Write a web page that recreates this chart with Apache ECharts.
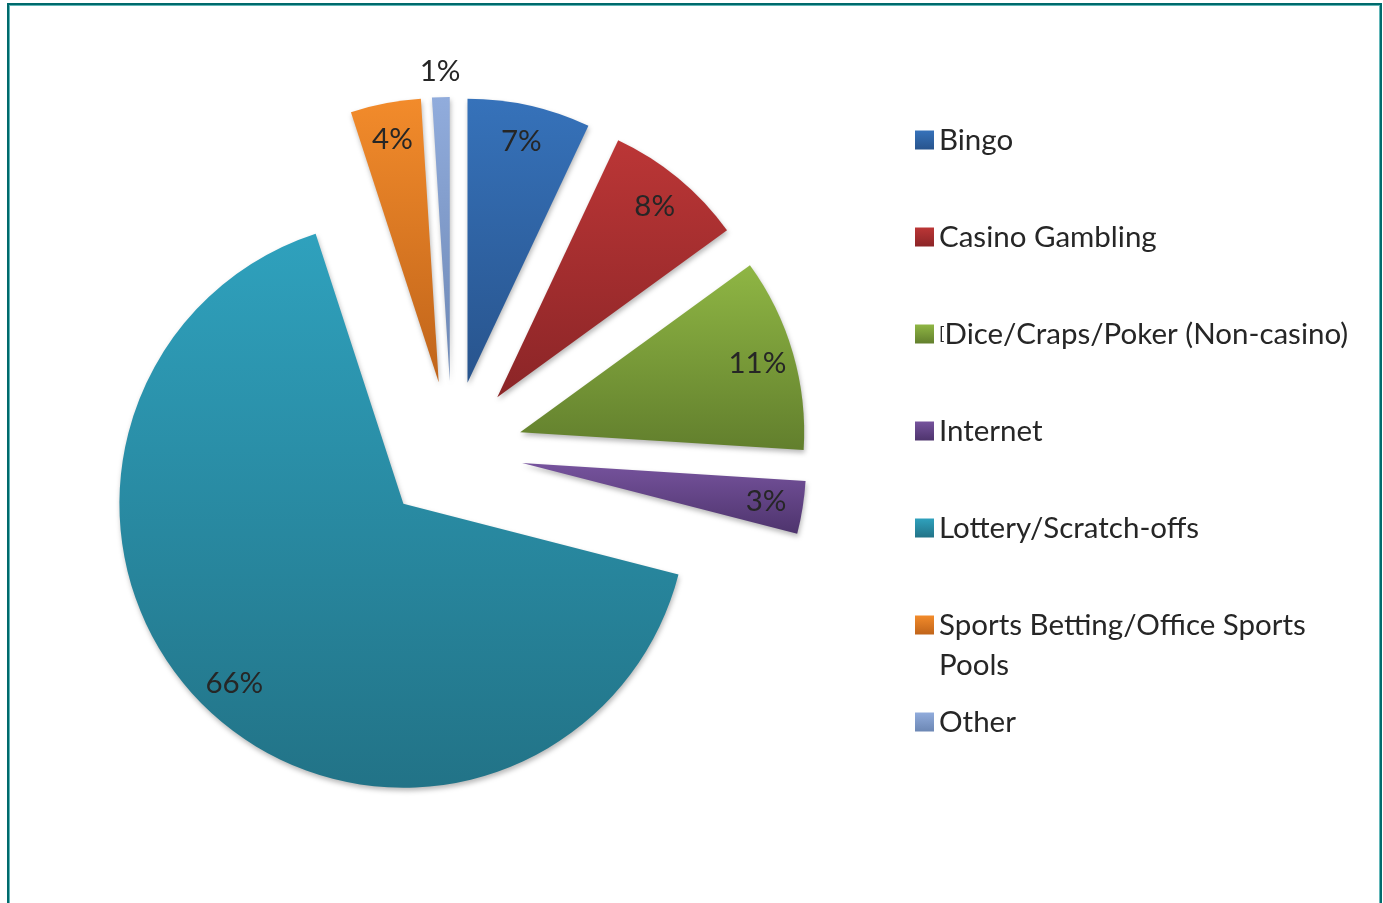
<!DOCTYPE html>
<html>
<head>
<meta charset="utf-8">
<title>Gambling activities</title>
<script src="https://cdn.jsdelivr.net/npm/echarts@6/dist/echarts.min.js"></script>
<style>
  html, body { margin: 0; padding: 0; background: #ffffff; overflow: hidden; }
  #chart { position: absolute; left: 0; top: 0; width: 1383px; height: 903px; }
  /* teal double-line frame round the chart area */
  #frame {
    position: absolute; left: 7px; top: 3px; width: 1375px; height: 1000px;
    box-sizing: border-box; border: 2px solid #006a6c; border-bottom: none;
    box-shadow: inset 1px 1px 0 #62b6b8, inset -1px 0 0 #62b6b8;
    pointer-events: none; z-index: 2;
  }
</style>
</head>
<body>
<div id="chart"></div>
<div id="frame"></div>
<script>
// Share of respondents by gambling activity (percent)
const categories = [
  'Bingo',
  'Casino Gambling',
  'Dice/Craps/Poker (Non-casino)',
  'Internet',
  'Lottery/Scratch-offs',
  'Sports Betting/Office Sports Pools',
  'Other'
];
const shares = [7, 8, 11, 3, 66, 4, 1];

// slice fills: light at the top, darker at the bottom
const topColors    = ['#3672ba', '#bb3636', '#8fb644', '#76539d', '#2fa1bd', '#f28b2b', '#91acdc'];
const bottomColors = ['#28548d', '#8b2527', '#627f2d', '#4e346d', '#227387', '#c0641a', '#6c87b4'];

const FONT = 'Lato';
const TEXT = '#262626';
const FONT_SIZE = 29.5;

function fill(i) {
  return new echarts.graphic.LinearGradient(0, 0, 0, 1, [
    { offset: 0, color: topColors[i] },
    { offset: 1, color: bottomColors[i] }
  ]);
}

const CENTER = [452, 452];
const EXPLODE = 71;

const sliceData = categories.map((name, i) => ({
  name, value: shares[i], selected: true,
  itemStyle: { color: fill(i) }
}));

// transparent rings that carry the percentage labels
function labelRing(radius, showFor) {
  return {
    type: 'pie',
    center: CENTER,
    radius: radius,
    startAngle: 90,
    clockwise: true,
    silent: true,
    legendHoverLink: false,
    selectedMode: 'multiple',
    selectedOffset: EXPLODE,
    percentPrecision: 0,
    emphasis: { disabled: true },
    itemStyle: { color: 'rgba(0,0,0,0)', borderWidth: 0 },
    select: { itemStyle: { color: 'rgba(0,0,0,0)', borderWidth: 0 } },
    labelLine: { show: false },
    label: {
      show: true, position: 'inside', formatter: '{d}%',
      fontFamily: FONT, fontSize: FONT_SIZE, color: TEXT
    },
    data: categories.map((name, i) => ({
      name, value: shares[i], selected: true,
      label: { show: showFor(name) }
    })),
    z: 5
  };
}

const legendBase = {
  orient: 'vertical',
  left: 915,
  padding: 0,
  icon: 'rect',
  itemWidth: 19,
  itemHeight: 19,
  selectedMode: false,
  textStyle: { fontFamily: FONT, fontSize: FONT_SIZE, color: TEXT, lineHeight: 36 }
};

const option = {
  animation: false,
  backgroundColor: '#ffffff',
  legend: [
    Object.assign({}, legendBase, {
      data: categories.slice(0, 5),
      top: 122,
      itemGap: 61,
      formatter: name => name === categories[2] ? '{br|[}' + name : name,
      textStyle: Object.assign({}, legendBase.textStyle, {
        rich: { br: { fontSize: 18, fontFamily: FONT, color: TEXT } }
      })
    }),
    Object.assign({}, legendBase, {
      // leading blank line keeps the first text line level with the swatch
      data: [categories[5]],
      top: 565,
      formatter: name => '\n' + name,
      textStyle: Object.assign({}, legendBase.textStyle, {
        lineHeight: 40, width: 380, overflow: 'break'
      })
    }),
    Object.assign({}, legendBase, {
      data: [categories[6]],
      top: 704
    })
  ],
  series: [
    {
      type: 'pie',
      center: CENTER,
      radius: 284,
      startAngle: 90,
      clockwise: true,
      selectedMode: 'multiple',
      selectedOffset: EXPLODE,
      silent: true,
      emphasis: { disabled: true },
      itemStyle: {
        borderWidth: 0,
        shadowBlur: 5, shadowOffsetX: 1, shadowOffsetY: 3,
        shadowColor: 'rgba(0,0,0,0.28)'
      },
      select: { itemStyle: { borderWidth: 0 } },
      label: { show: false },
      labelLine: { show: false },
      data: sliceData,
      z: 2
    },
    labelRing([200, 288], name => name !== 'Other'),
    labelRing([286, 328], name => name === 'Other')
  ]
};

const chart = echarts.init(document.getElementById('chart'), null, { renderer: 'canvas' });
chart.setOption(option);
</script>
</body>
</html>
